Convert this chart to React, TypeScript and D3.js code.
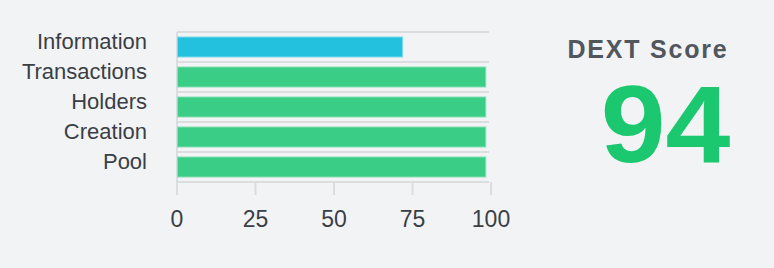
import React from "react";
import * as d3 from "d3";

const categories = ["Information", "Transactions", "Holders", "Creation", "Pool"];
const values = [72, 98.5, 98.5, 98.5, 98.5];
const barColors = ["#24c1de", "#39cd85", "#39cd85", "#39cd85", "#39cd85"];
const borderColors = ["#7fd9ec", "#86e0b3", "#86e0b3", "#86e0b3", "#86e0b3"];
const xTicks = [0, 25, 50, 75, 100];
const scoreTitle = "DEXT Score";
const scoreValue = 94;

const W = 774;
const H = 268;

export default function App() {
  const x = d3.scaleLinear().domain([0, 100]).range([177, 491]);
  const y = d3
    .scaleBand<string>()
    .domain(categories)
    .range([32, 182])
    .paddingInner(0.3)
    .paddingOuter(0.15);
  const step = y.step();
  const top = 32;
  const bottom = 182;
  const gridLines = d3.range(categories.length + 1).map((i) => top + i * step);

  return (
    <svg
      width={W}
      height={H}
      style={{ position: "absolute", left: 0, top: 0, display: "block" }}
      fontFamily="'Liberation Sans', Arial, Helvetica, sans-serif"
    >
      <rect x={0} y={0} width={W} height={H} fill="#f2f3f5" />
      {gridLines.map((gy, i) => (
        <line key={i} x1={x(0)} x2={489} y1={gy} y2={gy} stroke="#dcdde0" strokeWidth={2} />
      ))}
      <line x1={x(0)} x2={x(0)} y1={top} y2={bottom + 13} stroke="#dcdde0" strokeWidth={2} />
      {xTicks.slice(1).map((t) => (
        <line key={t} x1={x(t)} x2={x(t)} y1={bottom} y2={bottom + 13} stroke="#dcdde0" strokeWidth={2} />
      ))}
      {categories.map((c, i) => (
        <rect
          key={c}
          x={x(0) + 0.5}
          y={(y(c) as number) + 0.5}
          width={x(values[i]) - x(0) - 1}
          height={y.bandwidth() - 1}
          fill={barColors[i]}
          stroke={borderColors[i]}
          strokeWidth={1}
        />
      ))}
      {categories.map((c) => (
        <text
          key={c}
          x={147}
          y={(y(c) as number) + y.bandwidth() / 2 + 2}
          textAnchor="end"
          fontSize={22}
          fill="#3a3f45"
        >
          {c}
        </text>
      ))}
      {xTicks.map((t) => (
        <text key={t} x={x(t)} y={227} textAnchor="middle" fontSize={23} fill="#3a3f45">
          {t}
        </text>
      ))}
      <text
        x={648}
        y={58}
        textAnchor="middle"
        fontSize={25}
        fontWeight="bold"
        fill="#51575d"
        letterSpacing={1.8}
      >
        {scoreTitle}
      </text>
      <g transform="translate(665.5,162) scale(1.07,1)">
        <text x={0} y={0} textAnchor="middle" fontSize={109} fontWeight="bold" fill="#1bc870">
          {scoreValue}
        </text>
      </g>
    </svg>
  );
}
